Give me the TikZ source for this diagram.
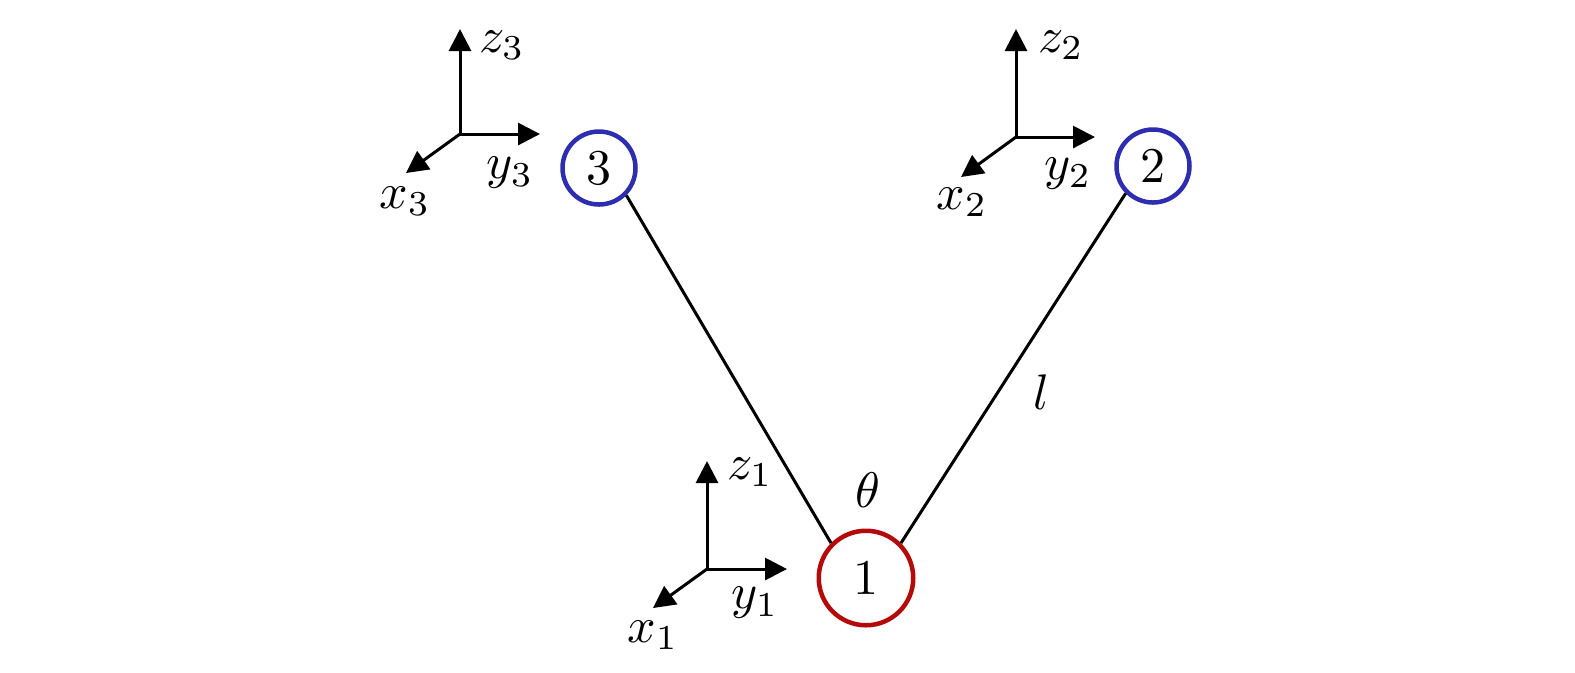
\documentclass[tikz,border=0pt]{standalone}
\usepackage{amsmath}
\usepackage{amssymb}
\usetikzlibrary{arrows.meta}
\definecolor{nodered}{RGB}{180,10,10}
\definecolor{nodeblue}{RGB}{45,45,175}
\tikzset{
  axis/.style={line width=0.6pt,-{Triangle[length=4.4pt,width=4.4pt]}},
  link/.style={line width=0.6pt},
}
\begin{document}
\begin{tikzpicture}[x=0.2pt,y=-0.2pt]
                \useasboundingbox (0,0) rectangle (1575,672);
                \node[shape=circle,draw=nodered,line width=0.9pt,inner sep=0pt,minimum size=18.9pt] (A) at (866,578) {$1$};
                \node[shape=circle,draw=nodeblue,line width=0.9pt,inner sep=0pt,minimum size=14.6pt] (B) at (1153,166) {$2$};
                \node[shape=circle,draw=nodeblue,line width=0.9pt,inner sep=0pt,minimum size=14.6pt] (C) at (599,168) {$3$};

                \path [link](A.north east) edge (B.south west);
                \path [link](A.north west) edge (C.south east);
                \node (T) at (868,490) {$\theta$};
                \node (L) at (1041,392) {$l$};

                % frame of node 1
                \coordinate (O1) at (707,569);
                \coordinate (X1) at (653,608);
                \coordinate (Y1) at (787,569);
                \coordinate (Z1) at (707,461);
                \draw [axis](O1) -- (X1);
                \draw [axis](O1) -- (Y1);
                \draw [axis](O1) -- (Z1);
                \node (x1) at (653,635) {$x_1$};
                \node (y1) at (755,603) {$y_1$};
                \node (z1) at (750,472) {$z_1$};

                % frame of node 2
                \coordinate (O2) at (1016,137);
                \coordinate (X2) at (961,177);
                \coordinate (Y2) at (1095,137);
                \coordinate (Z2) at (1016,29);
                \draw [axis](O2) -- (X2);
                \draw [axis](O2) -- (Y2);
                \draw [axis](O2) -- (Z2);
                \node (x2) at (962,202) {$x_2$};
                \node (y2) at (1068,174) {$y_2$};
                \node (z2) at (1061,45) {$z_2$};

                % frame of node 3
                \coordinate (O3) at (460,134);
                \coordinate (X3) at (406,173);
                \coordinate (Y3) at (540,134);
                \coordinate (Z3) at (460,29);
                \draw [axis](O3) -- (X3);
                \draw [axis](O3) -- (Y3);
                \draw [axis](O3) -- (Z3);
                \node (x3) at (405,201) {$x_3$};
                \node (y3) at (510,173) {$y_3$};
                \node (z3) at (502,45) {$z_3$};
            \end{tikzpicture}
\end{document}
